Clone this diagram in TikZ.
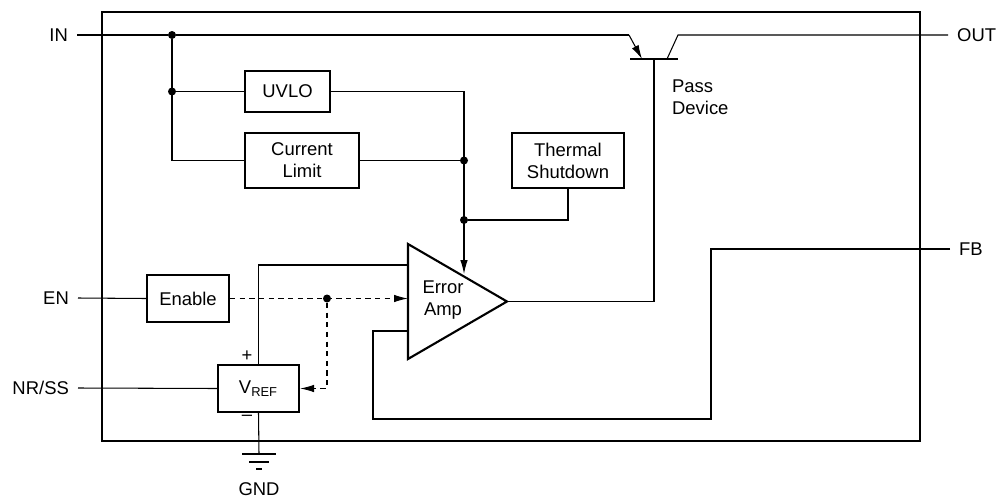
\documentclass[tikz,border=0pt]{standalone}
\usepackage{fontspec}
\setmainfont{Liberation Sans}
\usetikzlibrary{arrows, arrows.meta, positioning, calc}

\begin{document}
\begin{tikzpicture}[
    x=0.02cm, y=-0.02cm,
    font=\fontsize{10.5}{12.5}\selectfont,
    block/.style={rectangle, draw, line width=1.2pt, minimum width=1.7cm,
                  minimum height=0.82cm, align=center, inner sep=1pt},
    wire/.style={line width=0.6pt},
    sig/.style={wire, -{Latex[length=0.28cm, width=0.15cm]}},
    ctrl/.style={sig, dash pattern=on 3pt off 2.5pt},
    dot/.style={circle, fill, inner sep=0pt, minimum size=0.16cm},
    pin/.style={inner xsep=5pt, inner ysep=1pt}
]
\useasboundingbox (0,0) rectangle (1000,497);

% Chip outline
\draw[line width=1.3pt] (102,12) rectangle (920,441);

% Pins
\node[pin, anchor=east] (in) at (77,35) {IN};
\node[pin, anchor=west] (out) at (948,35) {OUT};
\node[pin, anchor=west] (fb) at (950,249) {FB};
\node[pin, anchor=east] (en) at (78,298) {EN};
\node[pin, anchor=east] (nrss) at (78,388) {NR/SS};

% Protection blocks
\node[block] (uvlo) at (287.5,91.5) {UVLO};
\node[block, minimum width=2.28cm, minimum height=1.1cm] (ilim) at (302,160.5) {Current\\Limit};
\node[block, minimum width=2.24cm, minimum height=1.1cm] (tsd) at (568,160.5) {Thermal\\Shutdown};

% Enable and reference
\node[block, minimum width=1.64cm, minimum height=0.94cm] (enable) at (188,298.5) {Enable};
\node[block, minimum width=1.62cm, minimum height=0.94cm] (vref) at (258.5,388.5) {V\textsubscript{REF}};
\node[inner sep=0pt] (plus) at (247,356) {+};
\node[inner sep=0pt] (minus) at (247,418) {\textendash};

% Error amplifier
\coordinate (amptop) at (408,244);
\coordinate (ampbot) at (408,359);
\coordinate (ampout) at (507,301.5);
\draw[line width=1.2pt, line join=miter] (amptop) -- (ampout) -- (ampbot) -- cycle;
\node[align=center] (amp) at (443,300.5) {Error\\Amp};

% Pass device
\coordinate (emit) at (629,35);
\coordinate (base) at (654,59);
\coordinate (coll) at (678,35);
\draw[line width=1.5pt] ($(base)+(-24,0)$) -- ($(base)+(24,0)$);
\draw[sig] (emit) -- ($(base)+(-12,0)$);
\draw[wire] ($(base)+(13,0)$) -- (coll) -- (out.west);
\node[align=left, anchor=west, inner sep=1pt] (pass) at (670,97.5) {Pass\\Device};

% Junctions
\node[dot] (j1) at (172,35) {};
\node[dot] (j2) at (172,91.5) {};
\node[dot] (j3) at (464,160.5) {};
\node[dot] (j4) at (464,220) {};
\node[dot] (j5) at (327,298.5) {};

% Connections
\draw[wire] (in.east) -- (j1) -- (emit);
\draw[wire] (j1) |- (ilim.west);
\draw[wire] (j2) -- (uvlo.west);
\draw[sig] (uvlo.east) -| (464,274);
\draw[wire] (ilim.east) -- (j3);
\draw[wire] (tsd.south) |- (j4);
\draw[wire] (ampout) -| (base);
\draw[wire] (vref.north) |- (408,265);
\draw[wire] (fb.west) -| (711,419) -| (373,331) -- (408,331);
\draw[wire] (en.east) -- (enable.west);
\draw[ctrl] (enable.east) -- (408,298.5);
\draw[ctrl] (j5) |- (vref.east);
\draw[wire] (nrss.east) -- (vref.west);

% Ground
\coordinate (gnd) at (259,454);
\draw[wire] (vref.south) -- (gnd);
\draw[line width=1pt] ($(gnd)+(-17,0)$) -- ($(gnd)+(17,0)$);
\draw[line width=1pt] ($(gnd)+(-10,8)$) -- ($(gnd)+(10,8)$);
\draw[line width=1pt] ($(gnd)+(-3,15)$) -- ($(gnd)+(3,15)$);
\node[inner sep=0pt] (gndlbl) at (259,489) {GND};

\end{tikzpicture}
\end{document}
